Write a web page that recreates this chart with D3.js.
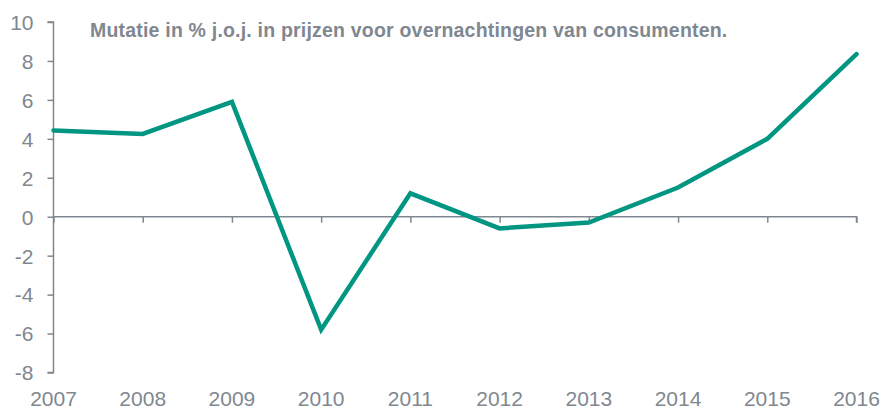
<!DOCTYPE html>
<html>
<head>
<meta charset="utf-8">
<script src="https://cdn.jsdelivr.net/npm/d3@7"></script>
<style>
  html, body { margin: 0; padding: 0; background: #fff; }
  svg { display: block; }
</style>
</head>
<body>
<svg id="chart" width="885" height="410"></svg>
<script>
const years = ["2007","2008","2009","2010","2011","2012","2013","2014","2015","2016"];
const values = [4.43, 4.25, 5.9, -5.8, 1.2, -0.6, -0.3, 1.5, 4.0, 8.35];
const yTicks = [-8, -6, -4, -2, 0, 2, 4, 6, 8, 10];
const title = "Mutatie in % j.o.j. in prijzen voor overnachtingen van consumenten.";

const svg = d3.select("#chart");
const gray = "#7f8790";
const font = "'Liberation Sans', Arial, sans-serif";

const x = d3.scalePoint().domain(years).range([53.5, 856.5]);
const y = d3.scaleLinear().domain([-8, 10]).range([372.5, 22]);

// Y axis
const yAxis = d3.axisLeft(y).tickValues(yTicks).tickSize(6).tickPadding(14).tickFormat(d => String(d));
const gy = svg.append("g").attr("transform", `translate(${x(years[0])},0)`).call(yAxis);
gy.select(".domain").attr("stroke", gray).attr("stroke-width", 1.5).attr("d", `M-6,${y(10)}H0V${y(-8)}H-6`);
gy.selectAll(".tick line").attr("stroke", gray).attr("stroke-width", 1.5);
gy.selectAll(".tick text").attr("fill", gray).style("font-family", font).style("font-size", "21px").attr("dy", "0.35em");

// X axis at zero
const xAxis = d3.axisBottom(x).tickSize(6).tickFormat("");
const gx = svg.append("g").attr("transform", `translate(0,${y(0)})`).call(xAxis);
gx.select(".domain").attr("stroke", gray).attr("stroke-width", 1.5).attr("d", `M${x(years[0])},0H${x(years[years.length-1])}V6`);
gx.selectAll(".tick line").attr("stroke", gray).attr("stroke-width", 1.5);

// X labels at bottom
svg.append("g").selectAll("text").data(years).join("text")
  .attr("x", d => x(d)).attr("y", 406)
  .attr("text-anchor", "middle")
  .attr("fill", gray)
  .style("font-family", font).style("font-size", "21px")
  .text(d => d);

// Title
svg.append("text").attr("x", 90).attr("y", 37)
  .attr("fill", gray)
  .style("font-family", font).style("font-size", "19.5px").style("font-weight", "bold")
  .style("letter-spacing", "0.2px")
  .text(title);

// Line
const line = d3.line().x((d, i) => x(years[i])).y(d => y(d));
svg.append("path").datum(values)
  .attr("fill", "none")
  .attr("stroke", "#009682")
  .attr("stroke-width", 4.5)
  .attr("stroke-linejoin", "miter")
  .attr("stroke-linecap", "round")
  .attr("d", line);
</script>
</body>
</html>
